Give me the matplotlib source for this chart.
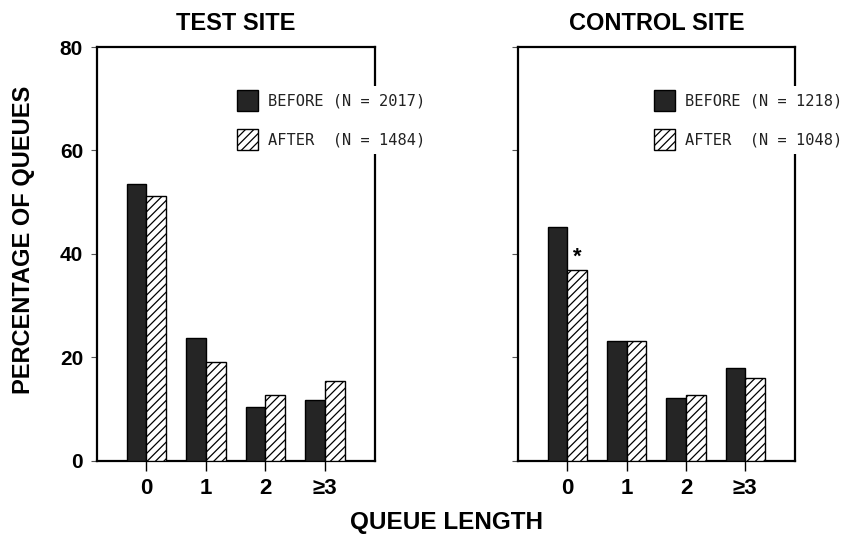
import matplotlib
matplotlib.use("Agg")
import matplotlib.pyplot as plt
import numpy as np

categories = ["0", "1", "2", "\u22653"]
test_before = [53.5, 23.7, 10.5, 11.8]
test_after = [51.3, 19.2, 12.8, 15.5]
ctrl_before = [45.3, 23.1, 12.1, 17.9]
ctrl_after = [37.0, 23.1, 12.8, 16.0]
test_labels = ["BEFORE (N = 2017)", "AFTER  (N = 1484)"]
ctrl_labels = ["BEFORE (N = 1218)", "AFTER  (N = 1048)"]
titles = ["TEST SITE", "CONTROL SITE"]
yticks = [0, 20, 40, 60, 80]

plt.rcParams['font.family'] = ['Liberation Sans', 'DejaVu Sans']
plt.rcParams['hatch.linewidth'] = 0.9

fig = plt.figure(figsize=(8.45, 5.44), dpi=100)
axL = fig.add_axes([0.1148, 0.1526, 0.329, 0.761])
axR = fig.add_axes([0.613, 0.1526, 0.328, 0.761])

w = 0.33
x = np.arange(len(categories))
panels = [
    (axL, test_before, test_after, test_labels, titles[0], True, 0.49),
    (axR, ctrl_before, ctrl_after, ctrl_labels, titles[1], False, 0.478),
]
for ax, b, a, labs, title, showy, legx in panels:
    bb = ax.bar(x - w / 2, b, width=w, color="#252525", edgecolor="black", linewidth=1.0, zorder=3)
    ba = ax.bar(x + w / 2, a, width=w, color="white", edgecolor="black", hatch="////", linewidth=1.0, zorder=3)
    ax.set_xlim(-0.83, 3.84)
    ax.set_ylim(0, 80)
    ax.set_xticks(x)
    ax.set_xticklabels(categories, fontsize=16, fontweight="bold")
    ax.set_yticks(yticks)
    if showy:
        ax.set_yticklabels([str(v) for v in yticks], fontsize=15, fontweight="bold")
        ax.set_ylabel("PERCENTAGE OF QUEUES", fontsize=17, fontweight="bold")
        ax.yaxis.set_label_coords(-0.223, 0.534)
    else:
        ax.set_yticklabels([])
    ax.tick_params(axis="x", direction="out", length=7, width=1.0, pad=5)
    ax.tick_params(axis="y", direction="out", length=4, width=0.8, pad=6, color="#555555")
    for s in ax.spines.values():
        s.set_linewidth(1.6)
    ax.set_title(title, fontsize=17, fontweight="bold", pad=12)
    leg = ax.legend([bb, ba], labs, loc="upper left", bbox_to_anchor=(legx, 0.905),
                    prop={"family": "DejaVu Sans Mono", "size": 11.1},
                    handlelength=1.35, handleheight=1.7, handletextpad=0.65,
                    labelspacing=1.2, borderpad=0.25, borderaxespad=0,
                    frameon=True, facecolor="white", edgecolor="none", framealpha=1.0,
                    fancybox=False)
    for t in leg.get_texts():
        t.set_color("#222222")

axR.text(x[0] + w / 2, ctrl_after[0] + 0.3, "*", ha="center", va="bottom", fontsize=16, fontweight="bold")

fig.text(0.528, 0.04, "QUEUE LENGTH", ha="center", va="center", fontsize=17.5, fontweight="bold")

fig.savefig("out.png", dpi=100)
